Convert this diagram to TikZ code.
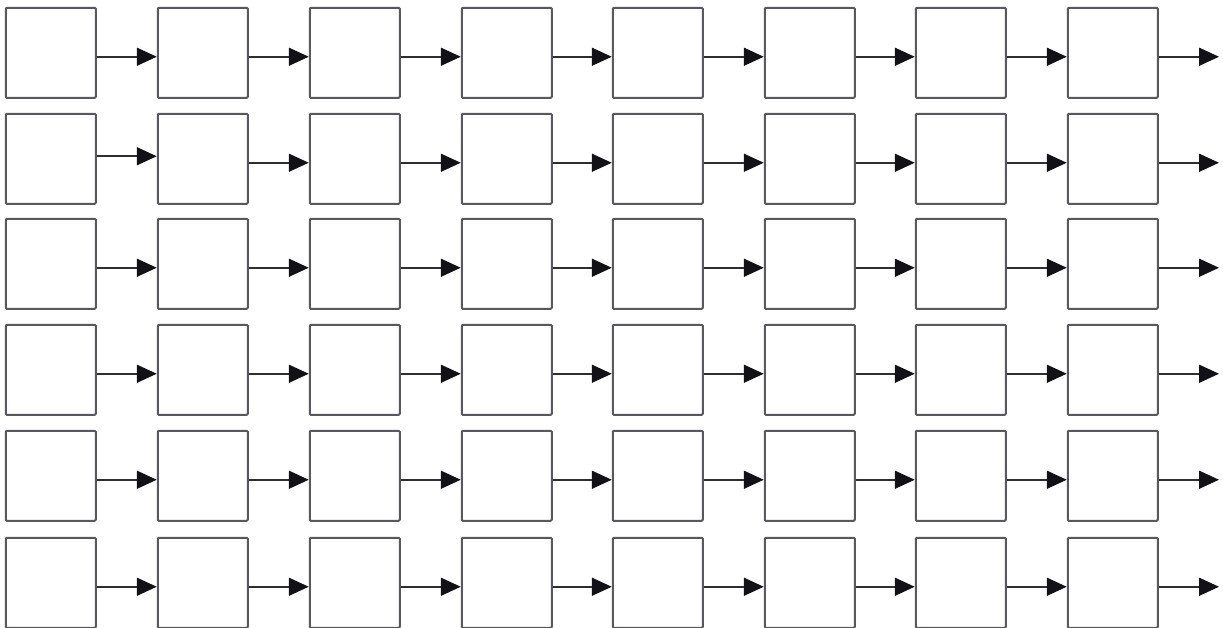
\documentclass[tikz,border=0pt]{standalone}
\usetikzlibrary{arrows.meta}
\definecolor{boxgray}{RGB}{88,88,94}
\definecolor{linegray}{RGB}{45,45,50}
\definecolor{headblack}{RGB}{18,18,22}
\tikzset{
  cell/.style={draw=boxgray, line width=2pt, fill=white, minimum width=90pt, minimum height=90pt, inner sep=0pt, rounded corners=1pt},
  conn/.style={draw=linegray, line width=1.7pt, -{Triangle[length=20pt,width=18pt,fill=headblack,color=headblack]}}
}
\begin{document}
\begin{tikzpicture}[x=1pt,y=-1pt]
\useasboundingbox[fill=white] (0,0) rectangle (1223,627);
\foreach \r/\top in {1/7,2/113,3/218,4/324,5/430,6/537}{
  \foreach \c/\lft in {1/5,2/157,3/309,4/461,5/612,6/764,7/915,8/1067}{
    \node[cell] (n\r-\c) at (\lft+45.75,\top+45.75) {};
  }
  \coordinate (e\r) at (1219,\top+49.75);
}
\foreach \r in {1,...,6}{
  \foreach \c [evaluate=\c as \n using int(\c+1)] in {1,...,7}{
    \ifnum\r=2 \ifnum\c=1
      \draw[conn] ([yshift=2.5pt]n\r-\c.east) -- ([yshift=2.5pt]n\r-\n.west);
    \else
      \draw[conn] ([yshift=-4pt]n\r-\c.east) -- ([yshift=-4pt]n\r-\n.west);
    \fi\else
      \draw[conn] ([yshift=-4pt]n\r-\c.east) -- ([yshift=-4pt]n\r-\n.west);
    \fi
  }
  \draw[conn] ([yshift=-4pt]n\r-8.east) -- ([yshift=-4pt]n\r-8.east -| e\r);
}
\end{tikzpicture}
\end{document}
